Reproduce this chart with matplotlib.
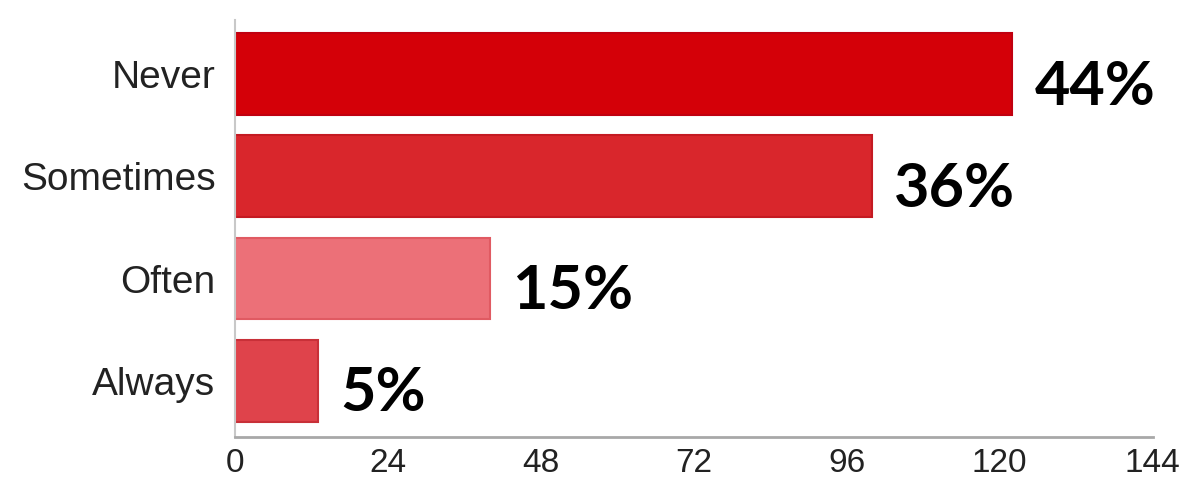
import matplotlib.pyplot as plt

# datos del grafico
categorias = ["Never", "Sometimes", "Often", "Always"]
valores = [122, 100, 40, 13]
porcentajes = ["44%", "36%", "15%", "5%"]
colores = ["#d40008", "#d9262c", "#ec7078", "#df434b"]
bordes = ["#c00010", "#c41a22", "#e05a62", "#c83038"]
ticks_x = [0, 24, 48, 72, 96, 120, 144]

fig = plt.figure(figsize=(11.92, 4.95), dpi=100)
ax = fig.add_axes([0.197, 0.117, 0.77, 0.843])

y = list(range(len(categorias)))
ax.barh(y, valores, height=0.8, color=colores, edgecolor=bordes, linewidth=1.5)

# etiquetas de porcentaje al final de cada barra
for yi, v, p in zip(y, valores, porcentajes):
    ax.annotate(p, xy=(v, yi), xytext=(16, -9), textcoords="offset points",
                va="center", ha="left", fontsize=44, fontweight="bold",
                family="Lato", color="black")

ax.set_xlim(0, 144)
ax.set_ylim(3.55, -0.53)
ax.set_xticks(ticks_x)
ax.set_yticks(y)
ax.set_yticklabels(categorias)

for lab in ax.get_yticklabels():
    lab.set_fontsize(28)
    lab.set_family("Liberation Sans")
    lab.set_color("#222222")
for lab in ax.get_xticklabels():
    lab.set_fontsize(24)
    lab.set_family("Liberation Sans")
    lab.set_color("#222222")

ax.tick_params(axis="both", length=0)
ax.tick_params(axis="x", pad=8)
ax.tick_params(axis="y", pad=14)

for s in ["top", "right"]:
    ax.spines[s].set_visible(False)
ax.spines["bottom"].set_color("#a8a8a8")
ax.spines["bottom"].set_linewidth(2)
ax.spines["left"].set_color("#c8c8c8")
ax.spines["left"].set_linewidth(1.5)

fig.savefig("out.png", dpi=100)
